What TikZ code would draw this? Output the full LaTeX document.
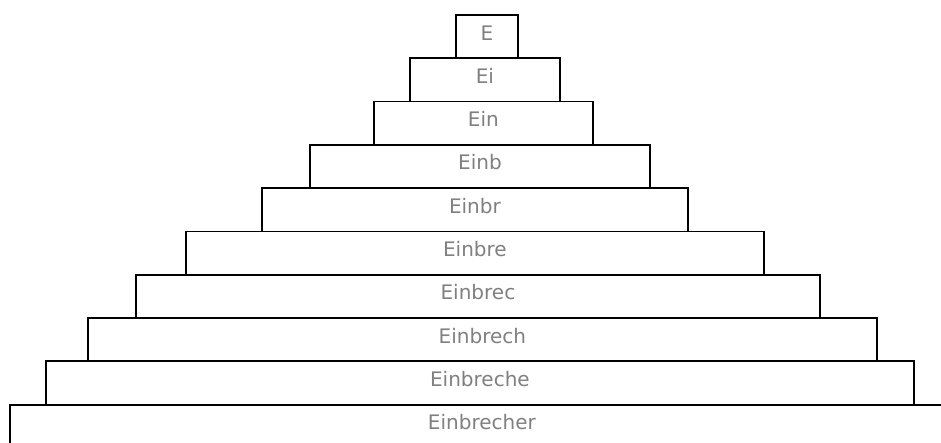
\documentclass[tikz,border=0pt]{standalone}
\usepackage{fontspec}
\setmainfont{DejaVu Sans}
\definecolor{wordgray}{RGB}{128,128,128}

\begin{document}
\begin{tikzpicture}[x=1pt, y=-1pt,
	tier/.style={draw, line width=1.8pt, rectangle, anchor=north west,
		minimum height=43.3pt, inner sep=0pt, text height=14pt, text depth=7pt,
		text=wordgray, font=\fontsize{20}{23}\selectfont}]

	% page
	\useasboundingbox (0,0) rectangle (941,442);
	\clip (0,0) rectangle (941,442);

	% word pyramid, bottom up
	\node[tier, minimum width=944pt] (r10) at (9,403.7)  {Einbrecher};
	\node[tier, minimum width=868pt] (r9)  at (45,360.4) {Einbreche};
	\node[tier, minimum width=789pt] (r8)  at (87,317.1) {Einbrech};
	\node[tier, minimum width=684pt] (r7)  at (135,273.8) {Einbrec};
	\node[tier, minimum width=578pt] (r6)  at (185,230.5) {Einbre};
	\node[tier, minimum width=426pt] (r5)  at (261,187.2) {Einbr};
	\node[tier, minimum width=340pt] (r4)  at (309,143.9) {Einb};
	\node[tier, minimum width=219pt] (r3)  at (373,100.6) {Ein};
	\node[tier, minimum width=150pt] (r2)  at (409,57.3)  {Ei};
	\node[tier, minimum width=62pt]  (r1)  at (455,14)    {E};

\end{tikzpicture}
\end{document}
